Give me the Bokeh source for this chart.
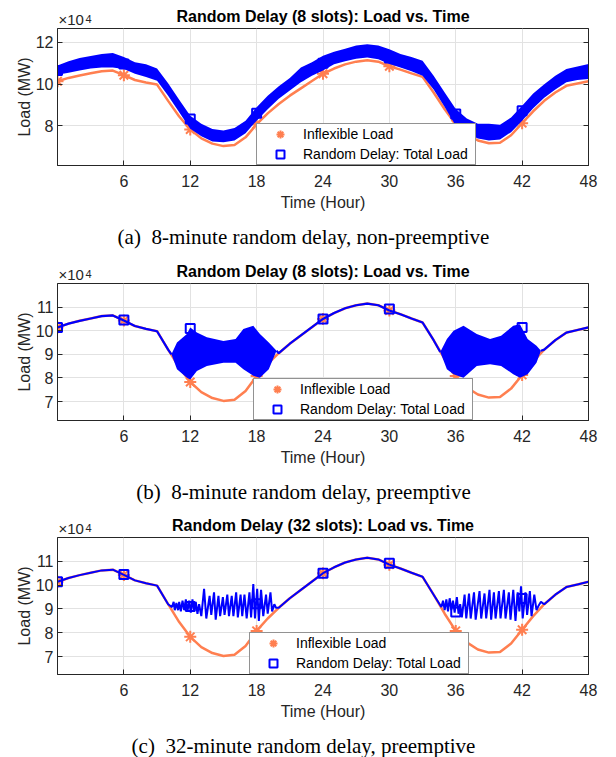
from bokeh.plotting import figure
from bokeh.models import Range1d, FixedTicker, LinearAxis, Legend, LegendItem
from bokeh.layouts import column
from bokeh.embed import file_html
from bokeh.resources import INLINE
from bokeh.core.properties import value

# ---------------- data (load in units of 1e4 MW) ----------------
hours = list(range(49))
inflexible_load = [10.14, 10.30, 10.42, 10.52, 10.62, 10.65, 10.43, 10.20, 10.08, 9.98,
                   9.20, 8.45, 7.83, 7.40, 7.15, 7.03, 7.08, 7.45, 8.08, 8.60,
                   9.05, 9.45, 9.80, 10.15, 10.50, 10.75, 10.95, 11.08, 11.15, 11.08,
                   10.86, 10.70, 10.52, 10.35, 9.60, 8.80, 8.08, 7.60, 7.30, 7.17,
                   7.19, 7.55, 8.13, 8.70, 9.20, 9.60, 9.92, 10.03, 10.14]
marker_hours = [0, 6, 12, 18, 24, 30, 36, 42]

# (a) non-preemptive: noisy total-load band, lower / upper envelope per hour
total_a_low = [10.45, 10.55, 10.65, 10.75, 10.80, 10.80, 10.73, 10.50, 10.35, 10.17,
               9.45, 8.65, 7.86, 7.50, 7.25, 7.22, 7.30, 7.65, 8.25, 8.80,
               9.30, 9.70, 10.09, 10.40, 10.65, 10.95, 11.10, 11.22, 11.28, 11.20,
               10.97, 10.80, 10.62, 10.41, 9.75, 8.90, 8.01, 7.65, 7.40, 7.30,
               7.35, 7.70, 8.25, 8.85, 9.35, 9.75, 10.09, 10.20, 10.25]
total_a_high = [10.90, 11.10, 11.25, 11.35, 11.45, 11.50, 11.30, 11.05, 10.95, 10.75,
                10.05, 9.25, 8.49, 8.10, 7.85, 7.78, 7.90, 8.25, 8.89, 9.45,
                9.90, 10.30, 10.80, 11.05, 11.36, 11.55, 11.70, 11.85, 11.92, 11.85,
                11.68, 11.45, 11.30, 11.12, 10.40, 9.60, 8.81, 8.35, 8.10, 8.10,
                8.05, 8.40, 8.97, 9.55, 10.00, 10.40, 10.73, 10.85, 10.97]
total_a_markers = [10.65, 10.97, 8.33, 8.60, 11.00, 11.25, 8.57, 8.73]

# (b) 8-minute preemptive: dense oscillation envelopes in the two valleys
b_win1_x = [10.3, 10.8, 11.7, 12.0, 12.6, 13.5, 15.0, 16.1, 16.8, 17.7, 18.3, 19.1, 19.8]
b_win1_low = [9.00, 8.37, 8.01, 7.94, 8.30, 8.51, 8.65, 8.65, 8.37, 8.09, 8.01, 8.37, 9.15]
b_win1_high = [9.00, 9.50, 9.86, 10.14, 9.93, 9.72, 9.57, 9.65, 10.07, 10.21, 9.86, 9.50, 9.15]
b_win2_x = [34.6, 35.2, 35.8, 36.7, 37.9, 39.1, 40.1, 41.2, 41.8, 42.5, 43.3, 43.7]
b_win2_low = [9.10, 8.37, 8.16, 8.01, 8.51, 8.58, 8.51, 8.16, 8.01, 8.16, 8.65, 9.15]
b_win2_high = [9.10, 9.65, 10.00, 10.21, 9.86, 9.65, 9.79, 10.21, 10.28, 9.65, 9.36, 9.15]
total_b_markers = [10.14, 10.45, 10.10, 9.20, 10.50, 10.92, 9.00, 10.14]

# (c) 32-minute preemptive: zig-zag total load in the two valleys
c_win1_x = [10.35, 10.5, 10.6, 10.75, 10.9, 11.0, 11.15, 11.3, 11.45, 11.6,
            11.75, 11.9, 12.05, 12.2, 12.35, 12.5, 12.65, 12.8, 13.0, 13.25,
            13.45, 13.75, 13.9, 14.15, 14.3, 14.55, 14.7, 14.95, 15.1, 15.35,
            15.5, 15.75, 15.9, 16.15, 16.3, 16.55, 16.7, 16.9, 17.1, 17.35,
            17.5, 17.7, 17.85, 18.05, 18.2, 18.4, 18.6, 18.85, 19.0, 19.25,
            19.4, 19.6, 19.75]
c_win1_y = [9.08, 9.30, 8.95, 9.25, 8.95, 9.30, 8.90, 9.35, 8.95, 9.40,
            8.90, 9.35, 8.85, 9.40, 8.90, 9.30, 8.80, 9.20, 8.70, 9.85,
            8.60, 9.55, 8.75, 9.70, 8.55, 9.55, 8.70, 9.50, 8.75, 9.60,
            8.70, 9.55, 8.70, 9.70, 8.65, 9.60, 8.70, 9.60, 8.60, 9.70,
            8.65, 10.05, 8.60, 9.85, 8.50, 9.80, 8.70, 9.60, 8.80, 9.70,
            8.90, 9.20, 9.05]
c_win2_x = [34.7, 34.85, 35.0, 35.15, 35.3, 35.45, 35.6, 35.75, 35.9, 36.1,
            36.25, 36.4, 36.55, 36.8, 36.95, 37.2, 37.35, 37.65, 37.8, 38.15,
            38.3, 38.6, 38.75, 39.05, 39.2, 39.45, 39.6, 39.9, 40.05, 40.35,
            40.5, 40.8, 40.95, 41.2, 41.4, 41.6, 41.75, 41.9, 42.05, 42.3,
            42.45, 42.7, 42.85, 43.1, 43.3, 43.5, 43.7]
c_win2_y = [9.08, 9.35, 8.95, 9.40, 8.90, 9.45, 8.95, 9.35, 8.85, 9.50,
            8.80, 9.20, 8.65, 9.60, 8.60, 9.65, 8.60, 9.70, 8.55, 9.75,
            8.60, 9.65, 8.60, 9.80, 8.55, 9.70, 8.60, 9.75, 8.60, 9.80,
            8.60, 9.70, 8.55, 9.80, 8.50, 9.70, 8.90, 9.95, 8.60, 9.70,
            8.75, 9.75, 8.70, 9.60, 8.95, 9.15, 9.30]
total_c_markers = [10.14, 10.45, 9.10, 9.22, 10.50, 10.92, 8.87, 9.44]

x_ticks = [6, 12, 18, 24, 30, 36, 42, 48]
y_ticks_a = [8, 10, 12]
y_ticks_bc = [7, 8, 9, 10, 11]

titles = ["Random Delay (8 slots): Load vs. Time",
          "Random Delay (8 slots): Load vs. Time",
          "Random Delay (32 slots): Load vs. Time"]
captions = ["(a)\u00a0 8-minute random delay, non-preemptive",
            "(b)\u00a0 8-minute random delay, preemptive",
            "(c)\u00a0 32-minute random delay, preemptive"]
legend_labels = ["Inflexible Load", "Random Delay: Total Load"]

# ---------------- style ----------------
SANS = "Liberation Sans"
SERIF = "Liberation Serif"
ORANGE = "#FF7F50"
BLUE = "#0000FF"
AXC = "#262626"
GRID = "#e2e2e2"
W = 616
FL = 57          # frame left
FW = 531         # frame width
FR = W - FL - FW  # right border
FH = 137         # frame height
HEADER_H = 28
MAIN_BOTTOM = 50


def text_strip(height):
    # frame aligned with the plots' frames; x data == page pixels
    p = figure(frame_width=FW, frame_height=height, min_border_left=FL, min_border_right=FR,
               min_border_top=0, min_border_bottom=0,
               x_range=Range1d(FL, FL + FW), y_range=Range1d(0, height),
               x_axis_type=None, y_axis_type=None,
               output_backend="svg", toolbar_location=None)
    p.outline_line_color = None
    p.background_fill_color = "white"
    p.border_fill_color = "white"
    return p


def header(title):
    h = text_strip(HEADER_H)
    h.text(x=[FL + FW / 2], y=[HEADER_H - 15.7], text=[title], text_align="center",
           text_baseline="middle", text_font=value(SANS), text_font_size="16px",
           text_font_style="bold", text_color="black")
    h.text(x=[FL + 1], y=[0.6], text=["×10"], text_align="left",
           text_baseline="bottom", text_font=value(SANS), text_font_size="15px",
           text_color=AXC)
    h.text(x=[FL + 28], y=[HEADER_H - 18.5], text=["4"], text_align="left",
           text_baseline="alphabetic", text_font=value(SANS), text_font_size="11px",
           text_color=AXC)
    return h


def footer(caption, height):
    f = text_strip(height)
    f.text(x=[303], y=[height - 21], text=[caption], text_align="center",
           text_baseline="middle", text_font=value(SERIF), text_font_size="21px",
           text_color="black")
    return f


def main_fig(ylo, yhi, yticks):
    p = figure(frame_width=FW, frame_height=FH, min_border_left=FL,
               min_border_right=FR, min_border_top=0, min_border_bottom=MAIN_BOTTOM,
               x_range=Range1d(0, 48), y_range=Range1d(ylo, yhi),
               output_backend="svg", toolbar_location=None)
    p.outline_line_color = AXC
    p.background_fill_color = "white"
    p.border_fill_color = "white"
    xa = p.below[0]
    ya = p.left[0]
    xa.ticker = FixedTicker(ticks=x_ticks)
    ya.ticker = FixedTicker(ticks=yticks)
    p.xgrid.ticker = FixedTicker(ticks=x_ticks)
    p.ygrid.ticker = FixedTicker(ticks=yticks)
    for g in (p.xgrid[0], p.ygrid[0]):
        g.grid_line_color = GRID
        g.grid_line_width = 1
    for ax in (xa, ya):
        ax.axis_line_color = AXC
        ax.major_tick_line_color = AXC
        ax.major_tick_in = 5
        ax.major_tick_out = 0
        ax.minor_tick_line_color = None
        ax.major_label_text_font = SANS
        ax.major_label_text_font_size = "16px"
        ax.major_label_text_color = AXC
        ax.axis_label_text_font = SANS
        ax.axis_label_text_font_size = "16px"
        ax.axis_label_text_font_style = "normal"
        ax.axis_label_text_color = AXC
    xa.axis_label = "Time (Hour)"
    ya.axis_label = "Load (MW)"
    xa.major_label_standoff = 9
    xa.axis_label_standoff = 4
    ya.major_label_standoff = 4
    ya.axis_label_standoff = 0
    ax2 = LinearAxis(ticker=FixedTicker(ticks=yticks), major_label_text_font_size="0px",
                     major_tick_in=5, major_tick_out=0, minor_tick_line_color=None,
                     axis_line_color=AXC, major_tick_line_color=AXC, major_label_standoff=0)
    p.add_layout(ax2, "right")
    return p


def add_legend(p, r_ast, r_sq, legend_x):
    items = [LegendItem(label=legend_labels[0], renderers=[r_ast]),
             LegendItem(label=legend_labels[1], renderers=[r_sq])]
    lg = Legend(items=items, location=(legend_x, 0), orientation="vertical", margin=0,
                padding=dict(left=3, right=7, top=0, bottom=0), glyph_width=40,
                glyph_height=20, label_height=18, spacing=0, label_standoff=3,
                label_text_font=SANS, label_text_font_size="14px", label_text_color="black",
                border_line_color=AXC, border_line_width=1,
                background_fill_color="white", background_fill_alpha=1.0)
    p.add_layout(lg)


marker_inflex = [inflexible_load[h] for h in marker_hours]

# ---------------- (a) ----------------
pa = main_fig(6.1, 12.67, y_ticks_a)
pa.line(hours, inflexible_load, line_color=ORANGE, line_width=2.5)
ra_ast = pa.scatter(marker_hours, marker_inflex, marker="asterisk", size=12,
                    line_color=ORANGE, line_width=2)
pa.varea(x=hours, y1=total_a_low, y2=total_a_high, fill_color=BLUE, fill_alpha=1.0)
ra_sq = pa.scatter(marker_hours, total_a_markers, marker="square", size=9,
                   fill_color=None, line_color=BLUE, line_width=2)
add_legend(pa, ra_ast, ra_sq, 199)

# ---------------- (b) ----------------
pb = main_fig(6.2, 12.0, y_ticks_bc)
pb.line(hours, inflexible_load, line_color=ORANGE, line_width=2.5)
rb_ast = pb.scatter(marker_hours, marker_inflex, marker="asterisk", size=12,
                    line_color=ORANGE, line_width=2)
seg1_x = hours[0:11] + [b_win1_x[0]]
seg1_y = inflexible_load[0:11] + [b_win1_low[0]]
seg2_x = [b_win1_x[-1]] + hours[20:35] + [b_win2_x[0]]
seg2_y = [b_win1_low[-1]] + inflexible_load[20:35] + [b_win2_low[0]]
seg3_x = [b_win2_x[-1]] + hours[44:49]
seg3_y = [b_win2_low[-1]] + inflexible_load[44:49]
for sx, sy in ((seg1_x, seg1_y), (seg2_x, seg2_y), (seg3_x, seg3_y)):
    pb.line(sx, sy, line_color=BLUE, line_width=2.2)
pb.varea(x=b_win1_x, y1=b_win1_low, y2=b_win1_high, fill_color=BLUE, fill_alpha=1.0)
pb.varea(x=b_win2_x, y1=b_win2_low, y2=b_win2_high, fill_color=BLUE, fill_alpha=1.0)
rb_sq = pb.scatter(marker_hours, total_b_markers, marker="square", size=9,
                   fill_color=None, line_color=BLUE, line_width=2)
add_legend(pb, rb_ast, rb_sq, 196)

# ---------------- (c) ----------------
pc = main_fig(6.25, 12.0, y_ticks_bc)
pc.line(hours, inflexible_load, line_color=ORANGE, line_width=2.5)
rc_ast = pc.scatter(marker_hours, marker_inflex, marker="asterisk", size=12,
                    line_color=ORANGE, line_width=2)
c_x = hours[0:11] + c_win1_x + hours[20:35] + c_win2_x + hours[44:49]
c_y = inflexible_load[0:11] + c_win1_y + inflexible_load[20:35] + c_win2_y + inflexible_load[44:49]
pc.line(c_x, c_y, line_color=BLUE, line_width=2)
rc_sq = pc.scatter(marker_hours, total_c_markers, marker="square", size=9,
                   fill_color=None, line_color=BLUE, line_width=2)
add_legend(pc, rc_ast, rc_sq, 192)

layout = column(header(titles[0]), pa, footer(captions[0], 40),
                header(titles[1]), pb, footer(captions[1], 39),
                header(titles[2]), pc, footer(captions[2], 33), spacing=0)
open("out.html", "w").write(file_html(layout, INLINE))
